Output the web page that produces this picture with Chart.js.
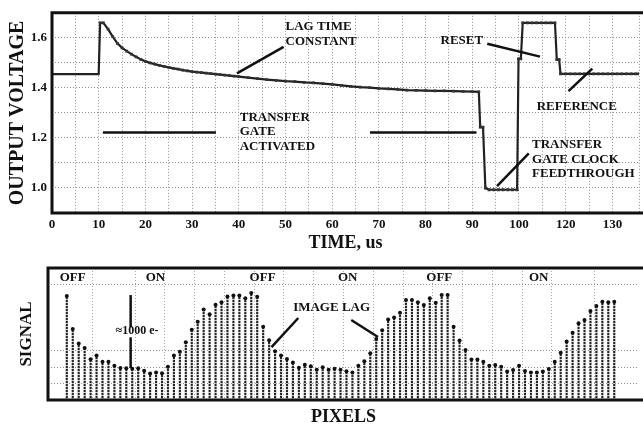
<!DOCTYPE html>
<html>
<head>
<meta charset="utf-8">
<script src="https://cdn.jsdelivr.net/npm/chart.js"></script>
<style>
  html, body { margin: 0; padding: 0; background: #fff; }
  #topChart { position: absolute; left: 0; top: 0; }
  #bottomChart { position: absolute; left: 0; top: 255px; }
</style>
</head>
<body>
<canvas id="topChart" width="643" height="255"></canvas>
<canvas id="bottomChart" width="643" height="172"></canvas>
<script>
// top panel: output voltage vs time (us)
const timeUs = [
  0, 10, 10.3, 11, 12, 13, 14, 15, 16, 17, 18, 19, 20,
  21, 22, 23, 24, 25, 26, 27, 28, 29, 30,
  31, 32, 33, 34, 35, 36, 37, 38, 39, 40,
  42, 44, 46, 48, 50, 52, 54, 56, 58, 60,
  62, 64, 66, 68, 70, 72, 74, 76, 78, 80,
  82, 84, 86, 88, 90, 91.4, 91.7, 92.3, 92.8,
  93.6, 94.6, 95.6, 96.6, 97.6, 98.6, 99.6, 99.9, 100.4,
  100.8, 101.8, 102.8, 103.8, 104.8, 105.8, 106.8, 107.7, 108.1, 108.6, 108.9,
  110, 111, 112, 113, 114, 115, 116, 117, 118, 119,
  120, 121, 122, 123, 124, 125, 125.7
];
const outputVoltage = [
  1.455, 1.455, 1.66, 1.66, 1.635, 1.605, 1.578, 1.56, 1.547, 1.535, 1.524, 1.514, 1.506,
  1.500, 1.495, 1.490, 1.486, 1.482, 1.478, 1.475, 1.471, 1.468, 1.465,
  1.463, 1.461, 1.459, 1.457, 1.455, 1.453, 1.451, 1.449, 1.447, 1.445,
  1.441, 1.437, 1.433, 1.430, 1.427, 1.425, 1.422, 1.420, 1.417, 1.414,
  1.410, 1.406, 1.403, 1.401, 1.398, 1.396, 1.394, 1.391, 1.390, 1.389,
  1.388, 1.388, 1.387, 1.386, 1.385, 1.384, 1.243, 1.243, 1.000,
  0.993, 0.993, 0.993, 0.993, 0.993, 0.993, 0.993, 1.516, 1.516,
  1.66, 1.66, 1.66, 1.66, 1.66, 1.66, 1.66, 1.66, 1.513, 1.513, 1.456,
  1.456, 1.456, 1.456, 1.456, 1.456, 1.456, 1.456, 1.456, 1.456, 1.456,
  1.456, 1.456, 1.456, 1.456, 1.456, 1.456, 1.456
];
// note: the original figure labels the 110 and 120 ticks as "120" and "130"
const timeTickLabels = ['0', '10', '20', '30', '40', '50', '60', '70', '80', '90', '100', '120', '130'];
const voltageTickLabels = { 10: '1.0', 12: '1.2', 14: '1.4', 16: '1.6' };

// bottom panel: signal per pixel
const pixelSignal = [
  6.30, 4.30, 3.43, 3.15, 2.47, 2.69, 2.32, 2.32, 2.07, 1.94,
  1.92, 1.89, 1.92, 1.78, 1.60, 1.67, 1.62, 2.02, 2.69, 2.93,
  3.50, 4.26, 4.75, 5.49, 5.19, 5.78, 5.92, 6.28, 6.34, 6.34,
  6.16, 6.48, 6.26, 4.44, 3.62, 2.95, 2.69, 2.48, 2.28, 1.96,
  2.14, 2.04, 1.84, 1.98, 1.84, 1.90, 1.84, 1.74, 1.67, 2.08,
  2.35, 2.83, 3.69, 4.22, 4.88, 5.00, 5.29, 6.06, 6.06, 5.92,
  5.76, 6.16, 5.90, 6.36, 6.36, 4.44, 3.60, 3.03, 2.46, 2.46,
  2.32, 2.08, 2.12, 2.02, 1.72, 1.82, 2.08, 1.76, 1.66, 1.66,
  1.72, 1.88, 2.32, 2.87, 3.54, 4.08, 4.65, 4.85, 5.39, 5.70,
  5.96, 5.92, 5.96
];
const pixelIndex = pixelSignal.map((v, i) => i + 1);

Chart.defaults.font.family = '"Liberation Serif", "Times New Roman", serif';
Chart.defaults.font.weight = 'bold';
Chart.defaults.color = '#111';

const GRID = '#8f8f8f';

// thick frame on top, left and bottom (right side runs off the page)
const framePlugin = {
  id: 'frame',
  afterDatasetsDraw(chart) {
    const { ctx, chartArea: a } = chart;
    ctx.save();
    ctx.strokeStyle = '#111';
    ctx.lineWidth = 3;
    ctx.beginPath();
    ctx.moveTo(chart.width + 2, a.top);
    ctx.lineTo(a.left, a.top);
    ctx.lineTo(a.left, a.bottom);
    ctx.lineTo(chart.width + 2, a.bottom);
    ctx.stroke();
    ctx.restore();
  }
};

// callout text and pointer lines, placed in data units
const notesPlugin = {
  id: 'notes',
  afterDatasetsDraw(chart, args, opts) {
    const { ctx, scales: { x, y } } = chart;
    ctx.save();
    ctx.fillStyle = '#111';
    ctx.strokeStyle = '#111';
    (opts.lines || []).forEach(l => {
      ctx.lineWidth = l.w || 2.5;
      ctx.beginPath();
      ctx.moveTo(x.getPixelForValue(l.x1), y.getPixelForValue(l.y1));
      ctx.lineTo(x.getPixelForValue(l.x2), y.getPixelForValue(l.y2));
      ctx.stroke();
    });
    ctx.textBaseline = 'middle';
    (opts.texts || []).forEach(t => {
      ctx.font = 'bold ' + (t.size || 13) + 'px "Liberation Serif", serif';
      ctx.textAlign = t.align || 'left';
      ctx.fillText(t.text, x.getPixelForValue(t.x), y.getPixelForValue(t.y));
    });
    ctx.restore();
  }
};

new Chart(document.getElementById('topChart'), {
  type: 'line',
  data: {
    datasets: [{
      data: timeUs.map((t, i) => ({ x: t, y: outputVoltage[i] })),
      borderColor: '#222',
      borderWidth: 2.2,
      pointStyle: 'rect',
      pointRadius: c => (c.dataIndex < 2 ? 0 : 2),
      pointBackgroundColor: '#333',
      pointBorderWidth: 0,
      tension: 0
    }]
  },
  options: {
    responsive: false,
    animation: false,
    layout: { padding: { top: 10, right: 0, left: 0, bottom: 0 } },
    plugins: {
      legend: { display: false },
      tooltip: { enabled: false },
      notes: {
        texts: [
          { text: 'LAG TIME', x: 50, y: 1.643 },
          { text: 'CONSTANT', x: 50, y: 1.584 },
          { text: 'TRANSFER', x: 40.2, y: 1.28 },
          { text: 'GATE', x: 40.2, y: 1.225 },
          { text: 'ACTIVATED', x: 40.2, y: 1.165 },
          { text: 'RESET', x: 83.2, y: 1.588 },
          { text: 'REFERENCE', x: 103.8, y: 1.327 },
          { text: 'TRANSFER', x: 102.8, y: 1.173 },
          { text: 'GATE CLOCK', x: 102.8, y: 1.114 },
          { text: 'FEEDTHROUGH', x: 102.8, y: 1.058 }
        ],
        lines: [
          { x1: 49.6, y1: 1.564, x2: 39.6, y2: 1.458 },
          { x1: 10.9, y1: 1.222, x2: 35.1, y2: 1.222 },
          { x1: 68.1, y1: 1.222, x2: 90.9, y2: 1.222 },
          { x1: 93.2, y1: 1.576, x2: 104.5, y2: 1.525 },
          { x1: 110.6, y1: 1.387, x2: 115.7, y2: 1.477 },
          { x1: 102.1, y1: 1.138, x2: 95.3, y2: 1.007 }
        ]
      }
    },
    scales: {
      x: {
        type: 'linear',
        min: 0,
        max: 125.7,
        afterFit: s => { s.height = 42; },
        grid: { color: GRID, lineWidth: 1, drawTicks: false },
        border: { display: false, dash: [1, 2] },
        ticks: {
          stepSize: 5,
          autoSkip: false,
          maxRotation: 0,
          padding: 4,
          font: { size: 13, weight: 'bold' },
          callback: v => (v % 10 === 0 ? (timeTickLabels[v / 10] || '') : '')
        },
        title: {
          display: true,
          text: 'TIME, us',
          font: { size: 18, weight: 'bold', lineHeight: 1 },
          padding: { top: 0, bottom: 3 }
        }
      },
      y: {
        min: 0.9,
        max: 1.7,
        afterFit: s => { s.width = 52; },
        grid: { color: GRID, lineWidth: 1, drawTicks: false },
        border: { display: false, dash: [1, 2] },
        ticks: {
          stepSize: 0.1,
          autoSkip: false,
          padding: 5,
          font: { size: 13, weight: 'bold' },
          callback: v => voltageTickLabels[Math.round(v * 10)] || ''
        },
        title: {
          display: true,
          text: 'OUTPUT VOLTAGE',
          font: { size: 20, weight: 'bold', lineHeight: 1 },
          padding: { top: 8, bottom: 0 }
        }
      }
    }
  },
  plugins: [notesPlugin, framePlugin]
});

// dotted stems like the scanned plot
const bottomCanvas = document.getElementById('bottomChart');
const tile = document.createElement('canvas');
tile.width = 2; tile.height = 3;
const tctx = tile.getContext('2d');
tctx.fillStyle = '#262626'; tctx.fillRect(0, 0, 2, 2);
tctx.fillStyle = '#c4c4c4'; tctx.fillRect(0, 2, 2, 1);
const stemPattern = bottomCanvas.getContext('2d').createPattern(tile, 'repeat');

const pixelPoints = pixelIndex.map((p, i) => ({ x: p, y: pixelSignal[i] }));

new Chart(bottomCanvas, {
  type: 'bar',
  data: {
    datasets: [
      {
        type: 'line',
        data: pixelPoints,
        showLine: false,
        pointRadius: 2,
        pointBackgroundColor: '#111',
        pointBorderWidth: 0
      },
      {
        type: 'bar',
        data: pixelPoints,
        backgroundColor: stemPattern,
        barThickness: 1.5,
        borderWidth: 0
      }
    ]
  },
  options: {
    responsive: false,
    animation: false,
    layout: { padding: { top: 13, right: 0, left: 0, bottom: 0 } },
    plugins: {
      legend: { display: false },
      tooltip: { enabled: false },
      notes: {
        texts: [
          { text: 'OFF', x: 2.0, y: 7.39, align: 'center' },
          { text: 'ON', x: 15.9, y: 7.39, align: 'center' },
          { text: 'OFF', x: 33.9, y: 7.39, align: 'center' },
          { text: 'ON', x: 48.2, y: 7.39, align: 'center' },
          { text: 'OFF', x: 63.6, y: 7.39, align: 'center' },
          { text: 'ON', x: 80.3, y: 7.39, align: 'center' },
          { text: '\u22481000 e-', x: 12.8, y: 4.18, align: 'center', size: 12 },
          { text: 'IMAGE LAG', x: 45.5, y: 5.58, align: 'center' }
        ],
        lines: [
          { x1: 11.73, y1: 6.36, x2: 11.73, y2: 4.4 },
          { x1: 11.73, y1: 3.8, x2: 11.73, y2: 1.94 },
          { x1: 39.9, y1: 4.97, x2: 35.4, y2: 3.21 },
          { x1: 48.8, y1: 4.85, x2: 53.3, y2: 3.82 }
        ]
      }
    },
    scales: {
      x: {
        type: 'linear',
        min: 0.6,
        max: 94.4,
        afterFit: s => { s.height = 27; },
        grid: { color: '#a8a8a8', lineWidth: 1, drawTicks: false },
        border: { display: false, dash: [1, 2] },
        ticks: { display: false, stepSize: 5 },
        title: {
          display: true,
          text: 'PIXELS',
          font: { size: 18, weight: 'bold', lineHeight: 1 },
          padding: { top: 0, bottom: 1 }
        }
      },
      y: {
        min: 0,
        max: 8,
        afterFit: s => { s.width = 48; },
        grid: {
          color: c => ([1, 2, 3, 7].includes(c.tick.value) ? GRID : 'rgba(0,0,0,0)'),
          lineWidth: 1,
          drawTicks: false
        },
        border: { display: false, dash: [1, 2] },
        ticks: { display: false, stepSize: 1 },
        title: {
          display: true,
          text: 'SIGNAL',
          font: { size: 17, weight: 'bold', lineHeight: 1 },
          padding: { top: 18, bottom: 0 }
        }
      }
    }
  },
  plugins: [notesPlugin, framePlugin]
});
</script>
</body>
</html>
